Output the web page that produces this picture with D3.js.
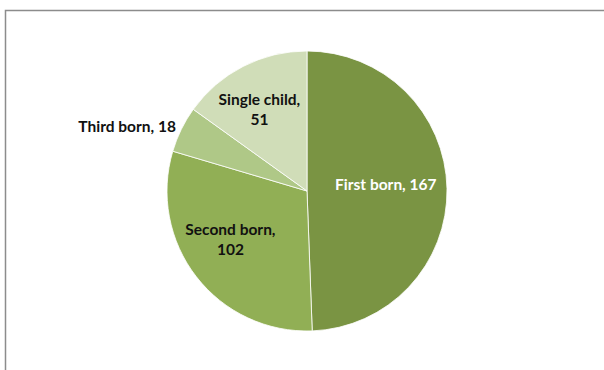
<!DOCTYPE html>
<html>
<head>
<meta charset="utf-8">
<script src="https://cdn.jsdelivr.net/npm/d3@7"></script>
<style>
  body { margin: 0; background: #fff; }
  svg text { font-family: Lato, "Open Sans", sans-serif; font-weight: bold; font-size: 15.5px; }
</style>
</head>
<body>
<svg id="chart" width="604" height="370"></svg>
<script>
// birth order counts, clockwise from 12 o'clock
var categories = ["First born", "Second born", "Third born", "Single child"]
var values = [167, 102, 18, 51]
var colors = ["#7a9443", "#91af55", "#afc887", "#d0ddb8"]
var labelText = ["#ffffff", "#111111", "#111111", "#111111"]
var labelLines = [["First born, 167"], ["Second born,", "102"], ["Third born, 18"], ["Single child,", "51"]]
var labelInside = [true, true, false, true]

var svg = d3.select("#chart")
var cx = 307, cy = 191, r = 140

// chart frame (runs off the right and bottom edge)
svg.append("rect")
	.attr("x", 5.5).attr("y", 10.5)
	.attr("width", 700).attr("height", 500)
	.attr("fill", "none")
	.attr("stroke", "#8c8c8c")
	.attr("stroke-width", 1.5)

var data = categories.map(function(c, i) { return {name: c, value: values[i], i: i} })

var pie = d3.pie().sort(null).value(function(d) { return d.value })
var arc = d3.arc().innerRadius(0).outerRadius(r)
var labelArc = d3.arc().innerRadius(r * 0.62).outerRadius(r * 0.62)

var g = svg.append("g").attr("transform", "translate(" + cx + "," + cy + ")")
var arcs = pie(data)

g.selectAll("path")
	.data(arcs)
	.enter()
	.append("path")
	.attr("d", arc)
	.attr("fill", function(d) { return colors[d.data.i] })
	.attr("stroke", "#ffffff")
	.attr("stroke-width", 0.8)

var lineH = 20
g.selectAll("text.lbl")
	.data(arcs)
	.enter()
	.append("text")
	.attr("class", "lbl")
	.attr("fill", function(d) { return labelText[d.data.i] })
	.attr("text-anchor", function(d) { return labelInside[d.data.i] ? "middle" : "end" })
	.attr("transform", function(d) {
		var p
		if (labelInside[d.data.i]) {
			p = labelArc.centroid(d)
			p = [p[0] - 8, p[1] - 4] // excel nudges the boxes a bit left/up
		} else {
			var a = (d.startAngle + d.endAngle) / 2
			p = [Math.sin(a) * (r + 6), -Math.cos(a) * (r + 6)]
		}
		return "translate(" + p[0] + "," + p[1] + ")"
	})
	.each(function(d) {
		var lines = labelLines[d.data.i]
		var t = d3.select(this)
		lines.forEach(function(s, k) {
			t.append("tspan")
				.attr("x", 0)
				.attr("dy", k == 0 ? (-(lines.length - 1) * lineH / 2 + 5) : lineH)
				.text(s)
		})
	})
</script>
</body>
</html>
